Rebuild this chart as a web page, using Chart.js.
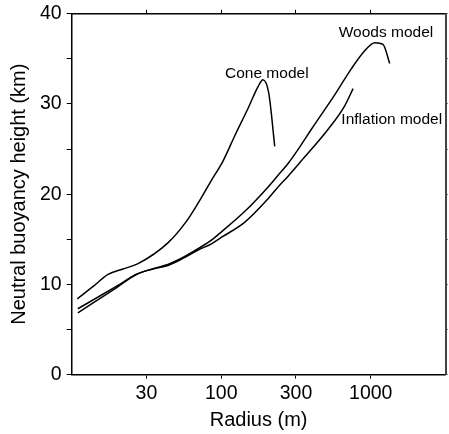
<!DOCTYPE html>
<html>
<head>
<meta charset="utf-8">
<script src="https://cdn.jsdelivr.net/npm/chart.js@4"></script>
<style>
  body { margin: 0; background: #fff; }
</style>
</head>
<body>
<canvas id="chart" width="449" height="434"></canvas>
<script>
// radius (m) and neutral buoyancy height (km)
const coneR = [10.9, 14, 17.5, 22, 27.8, 44, 58, 70, 85, 103, 125, 151, 176, 190, 208, 228];
const coneH = [8.4, 9.8, 11.1, 11.7, 12.3, 14.6, 16.9, 19.0, 21.4, 23.7, 26.7, 29.5, 31.9, 32.7, 31.2, 25.3];

const woodsR = [11, 20, 27, 35, 44, 55, 70, 86, 100, 144, 206, 240, 280, 343.6, 401, 574, 741, 912, 1064, 1208, 1339];
const woodsH = [7.3, 9.8, 11.1, 11.75, 12.2, 12.95, 13.95, 14.9, 15.8, 18.1, 20.8, 22.1, 23.4, 25.5, 27.2, 31.0, 33.9, 35.9, 36.8, 36.6, 34.5];

const inflR = [11, 20, 27, 35, 44, 55, 70, 86, 100, 144, 206, 240, 280, 343.6, 519, 670, 762];
const inflH = [6.85, 9.65, 11.1, 11.7, 12.1, 12.85, 13.8, 14.5, 15.2, 16.9, 19.5, 20.8, 22.0, 23.7, 27.2, 29.8, 31.7];

// log axis ticks sit at half decades, labelled with rounded values
const xTickValues = [31.62, 100, 316.2, 1000];
const xTickLabels = ['30', '100', '300', '1000'];

const modelNames = ['Cone model', 'Woods model', 'Inflation model'];

function pts(xs, ys) {
    return xs.map((x, i) => ({x: x, y: ys[i]}));
}

const FONT = "'Liberation Sans', Arial, Helvetica, sans-serif";

const labelPlugin = {
    id: 'modelLabels',
    afterDatasetsDraw(chart) {
        const ctx = chart.ctx;
        const xs = chart.scales.x, ys = chart.scales.y;
        // anchors in data units (radius, height)
        const anchors = [[106, 33.3], [611, 37.9], [636, 28.3]];
        ctx.save();
        ctx.font = '15.5px ' + FONT;
        ctx.fillStyle = '#000';
        ctx.textAlign = 'left';
        ctx.textBaseline = 'middle';
        modelNames.forEach((name, i) => {
            ctx.fillText(name, xs.getPixelForValue(anchors[i][0]), ys.getPixelForValue(anchors[i][1]));
        });
        ctx.restore();
    }
};

function setXTicks(scale) {
    scale.ticks = xTickValues.map(v => ({value: v}));
}

const line = {
    borderColor: '#000',
    borderWidth: 1.5,
    pointRadius: 0,
    cubicInterpolationMode: 'monotone',
    fill: false
};

new Chart(document.getElementById('chart').getContext('2d'), {
    type: 'line',
    data: {
        datasets: [
            Object.assign({label: modelNames[0], data: pts(coneR, coneH)}, line),
            Object.assign({label: modelNames[1], data: pts(woodsR, woodsH)}, line),
            Object.assign({label: modelNames[2], data: pts(inflR, inflH)}, line)
        ]
    },
    options: {
        responsive: false,
        animation: false,
        layout: {padding: {top: 1, right: 1.5, left: 7, bottom: 0}},
        plugins: {legend: {display: false}, tooltip: {enabled: false}},
        scales: {
            x: {
                type: 'logarithmic',
                position: 'bottom',
                min: 10,
                max: 3162.28,
                bounds: 'data',
                afterBuildTicks: setXTicks,
                grid: {drawOnChartArea: false, tickLength: 4, color: '#000'},
                border: {color: '#000', width: 1.5},
                ticks: {
                    color: '#000',
                    font: {family: FONT, size: 19.5},
                    padding: 3,
                    maxRotation: 0,
                    callback: (v, i) => xTickLabels[i]
                },
                title: {display: true, text: 'Radius (m)', color: '#000', font: {family: FONT, size: 20}, padding: {top: 0, bottom: 2}}
            },
            x2: {
                type: 'logarithmic',
                position: 'top',
                min: 10,
                max: 3162.28,
                bounds: 'data',
                afterBuildTicks: setXTicks,
                grid: {drawOnChartArea: false, tickLength: 4, color: '#000'},
                border: {color: '#000', width: 1.5},
                ticks: {display: false}
            },
            y: {
                type: 'linear',
                position: 'left',
                min: 0,
                max: 40,
                grid: {drawOnChartArea: false, tickLength: 5, color: '#000'},
                border: {color: '#000', width: 1.5},
                ticks: {
                    stepSize: 5,
                    color: '#000',
                    font: {family: FONT, size: 19.5, lineHeight: 0.9},
                    padding: 5,
                    callback: v => (v % 10 === 0 ? String(v) : '')
                },
                title: {display: true, text: 'Neutral buoyancy height (km)', color: '#000', font: {family: FONT, size: 20}, padding: {top: 0, bottom: 4}}
            },
            y2: {
                type: 'linear',
                position: 'right',
                min: 0,
                max: 40,
                grid: {drawOnChartArea: false, tickLength: 2, color: '#000'},
                border: {color: '#444', width: 2},
                ticks: {stepSize: 5, display: false}
            }
        }
    },
    plugins: [labelPlugin]
});
</script>
</body>
</html>
